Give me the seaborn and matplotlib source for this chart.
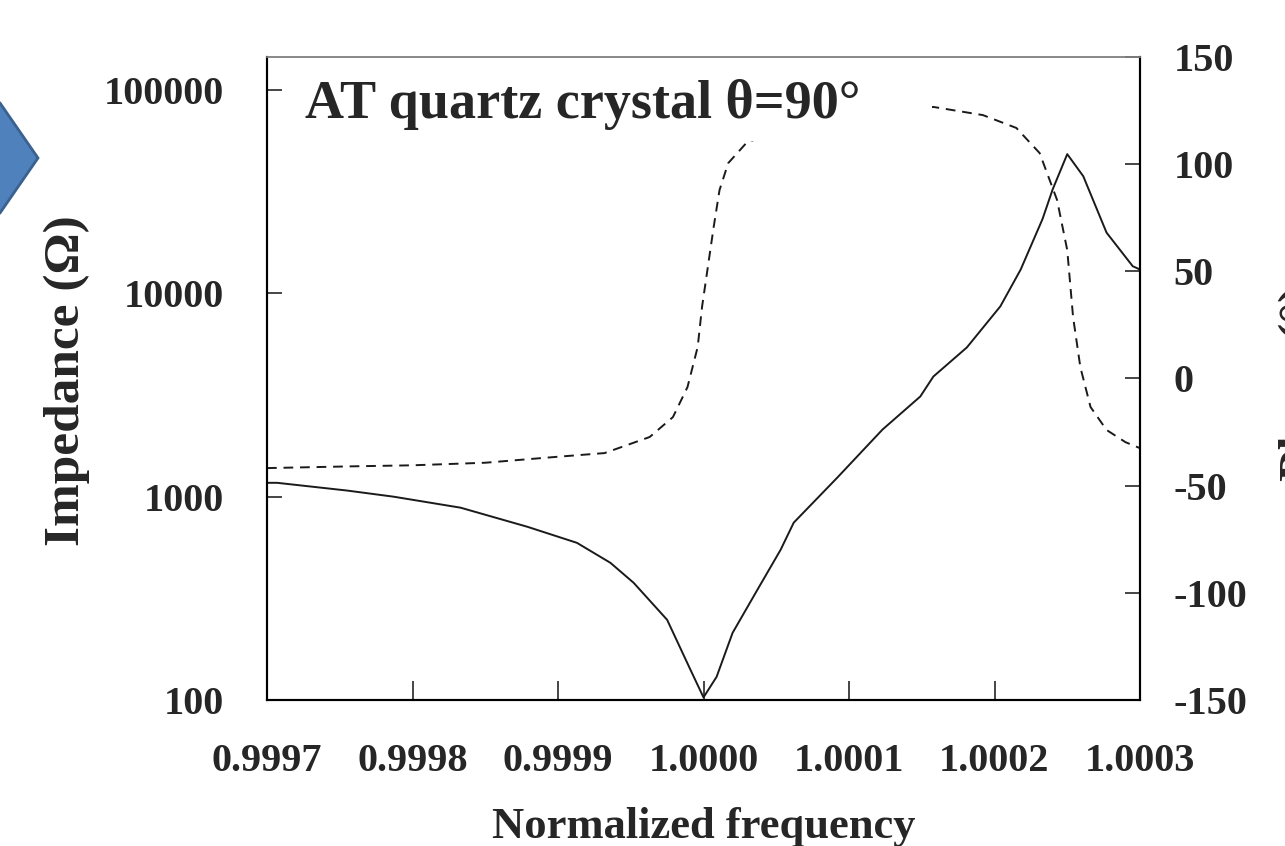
import matplotlib
matplotlib.use("Agg")
import matplotlib.pyplot as plt
import seaborn as sns
from matplotlib.patches import Polygon, Rectangle
from matplotlib.ticker import FixedLocator, NullLocator

# impedance curve (left axis, log scale)
imp_freq = [0.999700, 0.999707, 0.999755, 0.999787, 0.999833, 0.999879, 0.999913,
            0.999936, 0.999952, 0.999975, 0.999991, 1.000000, 1.000009, 1.000020,
            1.000037, 1.000053, 1.000062, 1.000092, 1.000123, 1.000149, 1.000158,
            1.000181, 1.000204, 1.000218, 1.000233, 1.000240, 1.000250, 1.000261,
            1.000277, 1.000295, 1.000300]
impedance = [1170, 1170, 1072, 1000, 883, 711, 593,
             473, 377, 248, 141, 103, 130, 214,
             348, 548, 745, 1242, 2138, 3110, 3900,
             5420, 8630, 13100, 23200, 32500, 48400, 37700,
             19900, 13600, 13100]

# phase curve (right axis, degrees)
ph_freq = [0.999700, 0.999757, 0.999800, 0.999850, 0.999900, 0.999932, 0.999963,
           0.999979, 0.999989, 0.999996, 0.999999, 1.000003, 1.000007, 1.000011,
           1.000017, 1.000030, 1.000066, 1.000114, 1.000158, 1.000192, 1.000215,
           1.000231, 1.000243, 1.000250, 1.000254, 1.000259, 1.000266, 1.000277,
           1.000290, 1.000300]
phase = [-41.8, -41.0, -40.5, -39.3, -36.5, -34.8, -27.3,
         -18.0, -4.0, 14.7, 33.4, 52.1, 70.7, 87.9,
         100.5, 110.3, 118.0, 122.0, 126.7, 122.9, 116.9,
         105.2, 83.3, 59.9, 28.7, 5.3, -13.3, -24.0,
         -29.7, -32.5]

x_ticks = [0.9997, 0.9998, 0.9999, 1.0000, 1.0001, 1.0002, 1.0003]
imp_ticks = [100, 1000, 10000, 100000]
ph_ticks = [-150, -100, -50, 0, 50, 100, 150]

W, H = 1285, 846


def fig_xy(x, y):
    return x / W, 1 - y / H


sns.set_style("white")
plt.rcParams['font.family'] = ['Liberation Serif', 'DejaVu Serif']
plt.rcParams['font.weight'] = 'bold'

fig = plt.figure(figsize=(W / 100, H / 100), dpi=100)
ax = fig.add_axes([267 / W, 1 - 700 / H, (1140 - 267) / W, (700 - 57) / H])
ax2 = ax.twinx()

sns.lineplot(x=imp_freq, y=impedance, ax=ax, color='#1a1a1a', linewidth=1.4,
             sort=False, estimator=None)
sns.lineplot(x=ph_freq, y=phase, ax=ax2, color='#1a1a1a', linewidth=1.4,
             linestyle='--', sort=False, estimator=None)
ax2.lines[0].set_dashes((5, 3.5))

ax.set_xlim(0.9997, 1.0003)
ax.set_yscale('log')
ax.set_ylim(100, 10 ** (5 + 33 / 203))
ax2.set_ylim(-150, 150)

ax.xaxis.set_major_locator(FixedLocator(x_ticks))
ax.set_xticklabels([f"{t:.4f}" for t in x_ticks])
ax.yaxis.set_major_locator(FixedLocator(imp_ticks))
ax.yaxis.set_minor_locator(NullLocator())
ax.set_yticklabels([str(t) for t in imp_ticks])
ax2.yaxis.set_major_locator(FixedLocator(ph_ticks))
ax2.set_yticklabels([str(t) for t in ph_ticks])

ax.tick_params(axis='x', direction='in', length=14, width=1.2, pad=31,
               labelsize=29, bottom=True, top=False)
ax.tick_params(axis='y', direction='in', length=11, width=1.2, pad=31,
               labelsize=29, left=True, right=False)
ax2.tick_params(axis='y', direction='in', length=11, width=1.2, pad=24,
                labelsize=29, right=True, left=False)
for a in (ax, ax2):
    for side in ('left', 'right', 'bottom'):
        a.spines[side].set_color('black')
        a.spines[side].set_linewidth(1.5)
    a.spines['top'].set_color('#888888')
    a.spines['top'].set_linewidth(1.2)
    for lab in a.get_xticklabels() + a.get_yticklabels():
        lab.set_fontweight('bold')

# white label box over the phase curve
x0, y0 = fig_xy(282, 141)
x1, y1 = fig_xy(932, 60)
ax2.add_patch(Rectangle((x0, y0), x1 - x0, y1 - y0, transform=fig.transFigure,
                        facecolor='white', edgecolor='none', zorder=3, clip_on=False))
tx, ty = fig_xy(305, 118)
ax2.text(tx, ty, "AT quartz crystal θ=90°", transform=fig.transFigure,
         fontsize=39, fontweight='bold', ha='left', va='baseline', zorder=4)

# axis titles
lx, ly = fig_xy(67, 381)
fig.text(lx, ly, "Impedance (Ω)", rotation=90, fontsize=37, fontweight='bold',
         ha='center', va='center')
rx, ry = fig_xy(1279, 383)
fig.text(rx, ry, "Phase (°)", rotation=90, fontsize=37, fontweight='bold',
         ha='left', va='center')
bx, by = fig_xy(704, 838)
fig.text(bx, by, "Normalized frequency", fontsize=32, fontweight='bold',
         ha='center', va='baseline')

# blue arrow shape cut off at the left edge
arrow = Polygon([fig_xy(-60, 103), fig_xy(0, 103), fig_xy(38, 158),
                 fig_xy(0, 213), fig_xy(-60, 213)], closed=True,
                transform=fig.transFigure, facecolor='#4F81BD',
                edgecolor='#3A6190', linewidth=2)
fig.add_artist(arrow)

fig.savefig("out.png", dpi=100)
